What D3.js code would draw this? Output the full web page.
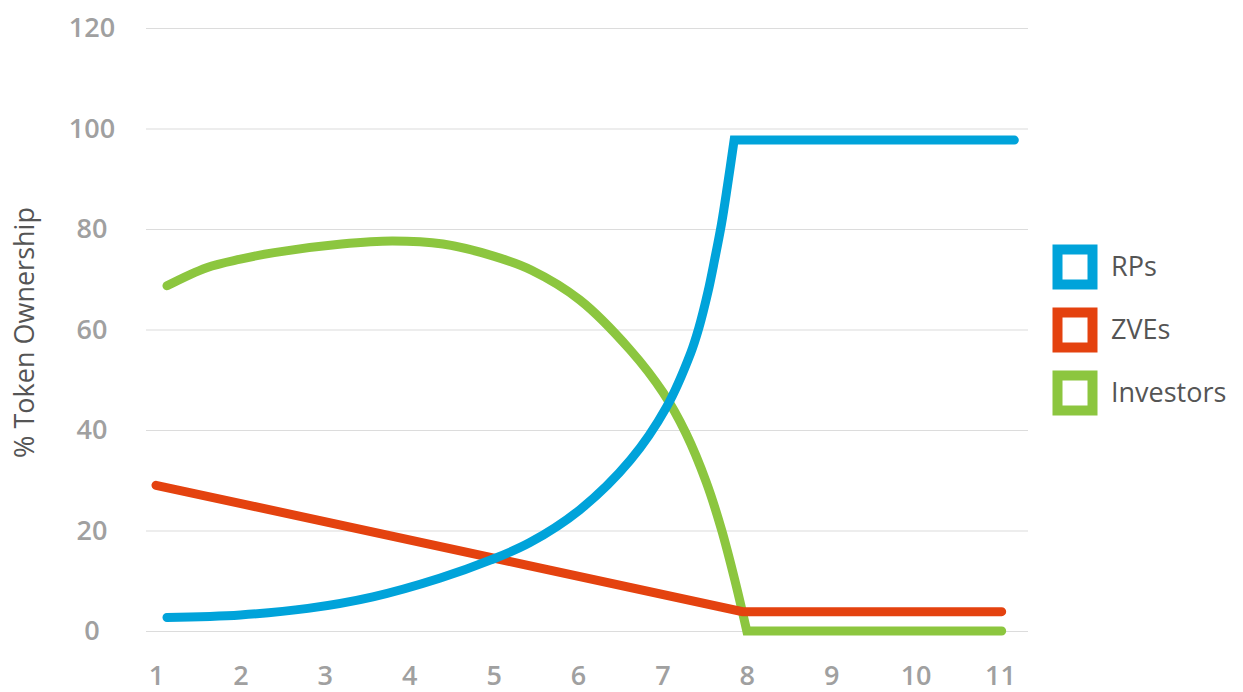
<!DOCTYPE html>
<html>
<head>
<meta charset="utf-8">
<script src="https://cdn.jsdelivr.net/npm/d3@7"></script>
<style>
  html, body { margin: 0; padding: 0; background: #fff; }
  svg { display: block; font-family: "Open Sans", sans-serif; }
</style>
</head>
<body>
<svg id="chart" width="1243" height="692"></svg>
<script>
// -------------------------------------------------------------
// Data
// -------------------------------------------------------------
const yTicks = [0, 20, 40, 60, 80, 100, 120];
const xTicks = [1, 2, 3, 4, 5, 6, 7, 8, 9, 10, 11];

const seriesNames = ["RPs", "ZVEs", "Investors"];
const seriesColors = ["#00a3da", "#e4420f", "#8cc63f"];

// RPs: exponential rise, then a flat plateau
const rpCurveX = [1.13, 2.0, 2.8, 3.57, 4.36, 4.96, 5.43, 6.02, 6.62, 7.05, 7.335, 7.43, 7.54, 7.62, 7.70, 7.77, 7.85];
const rpCurveY = [2.7, 3.2, 4.5, 6.8, 10.5, 14.1, 17.6, 24.1, 34.0, 44.6, 55.3, 60.2, 67.5, 74.0, 81.0, 88.5, 97.7];
const rpFlatX = [7.85, 11.17];
const rpFlatY = [97.7, 97.7];

// ZVEs: straight decline, then flat
const zveX = [1, 7.95, 11.02];
const zveY = [29.0, 3.85, 3.85];

// Investors: hump, steep drop to zero, then flat
const invCurveX = [1.13, 1.6, 2.0, 2.4, 3.2, 3.8, 4.4, 5.0, 5.45, 6.02, 6.62, 7.01, 7.28, 7.52, 7.70, 7.86, 8.0];
const invCurveY = [68.7, 72.3, 74.0, 75.3, 77.0, 77.6, 77.0, 74.6, 71.8, 65.9, 55.9, 47.4, 39.3, 29.6, 20.2, 10.0, 0];
const invFlatX = [8.0, 11.02];
const invFlatY = [0, 0];

// -------------------------------------------------------------
// Scales
// -------------------------------------------------------------
const svg = d3.select("#chart");

const x = d3.scaleLinear().domain([1, 11]).range([156, 1000]);
const y = d3.scaleLinear().domain([0, 120]).range([631, 28]);

const gridLeft = 146, gridRight = 1028;

// ---- Grid + y labels ----
const yAxis = svg.append("g")
  .attr("transform", `translate(${gridLeft},0)`)
  .call(d3.axisLeft(y).tickValues(yTicks).tickSize(-(gridRight - gridLeft)).tickFormat(d3.format("d")));

yAxis.select(".domain").remove();
yAxis.selectAll(".tick line")
  .attr("stroke", "#dcdcdc")
  .attr("stroke-width", 1.2);
yAxis.selectAll(".tick text")
  .attr("x", -54)
  .attr("text-anchor", "middle")
  .attr("fill", "#a0a0a0")
  .style("font-size", "27px")
  .style("font-weight", 600)
  .style("font-family", "'Open Sans', sans-serif");

// ---- x labels ----
const xAxis = svg.append("g")
  .attr("transform", `translate(0,${y(0)})`)
  .call(d3.axisBottom(x).tickValues(xTicks).tickSize(0).tickPadding(35).tickFormat(d3.format("d")));

xAxis.select(".domain").remove();
xAxis.selectAll(".tick text")
  .attr("fill", "#a0a0a0")
  .style("font-size", "27px")
  .style("font-weight", 600)
  .style("font-family", "'Open Sans', sans-serif");

// ---- y axis title ----
svg.append("text")
  .attr("transform", `translate(34,${(y(0) + y(120)) / 2 + 3}) rotate(-90)`)
  .attr("text-anchor", "middle")
  .attr("fill", "#555")
  .style("font-size", "27px")
  .text("% Token Ownership");

// -------------------------------------------------------------
// Lines
// -------------------------------------------------------------
const zip = (xs, ys) => xs.map((v, i) => [v, ys[i]]);

const smooth = d3.line().x(d => x(d[0])).y(d => y(d[1])).curve(d3.curveCatmullRom.alpha(0.5));
const straight = d3.line().x(d => x(d[0])).y(d => y(d[1]));

// curve part followed by a straight part, as one path so the corner stays sharp
function joinPaths(curvePts, flatPts) {
  const a = smooth(curvePts);
  const b = straight(flatPts).replace(/^M/, "L");
  return a + b;
}

const linePaths = [
  joinPaths(zip(rpCurveX, rpCurveY), zip(rpFlatX, rpFlatY)),
  straight(zip(zveX, zveY)),
  joinPaths(zip(invCurveX, invCurveY), zip(invFlatX, invFlatY))
];

// draw order: investors, zves, rps (blue on top at crossings)
const drawOrder = [2, 1, 0];
svg.append("g")
  .selectAll("path")
  .data(drawOrder)
  .join("path")
  .attr("d", i => linePaths[i])
  .attr("fill", "none")
  .attr("stroke", i => seriesColors[i])
  .attr("stroke-width", 9)
  .attr("stroke-linecap", "round")
  .attr("stroke-linejoin", "miter");

// -------------------------------------------------------------
// Legend
// -------------------------------------------------------------
const legend = svg.append("g")
  .attr("transform", "translate(1075,267)");

const items = legend.selectAll("g")
  .data(seriesNames)
  .join("g")
  .attr("transform", (d, i) => `translate(0,${i * 63})`);

items.append("rect")
  .attr("x", -17.5)
  .attr("y", -17.5)
  .attr("width", 35)
  .attr("height", 35)
  .attr("fill", "#fff")
  .attr("stroke", (d, i) => seriesColors[i])
  .attr("stroke-width", 10);

items.append("text")
  .attr("x", 36)
  .attr("y", 0)
  .attr("dy", "0.35em")
  .attr("fill", "#555")
  .style("font-size", "27px")
  .text(d => d);
</script>
</body>
</html>
